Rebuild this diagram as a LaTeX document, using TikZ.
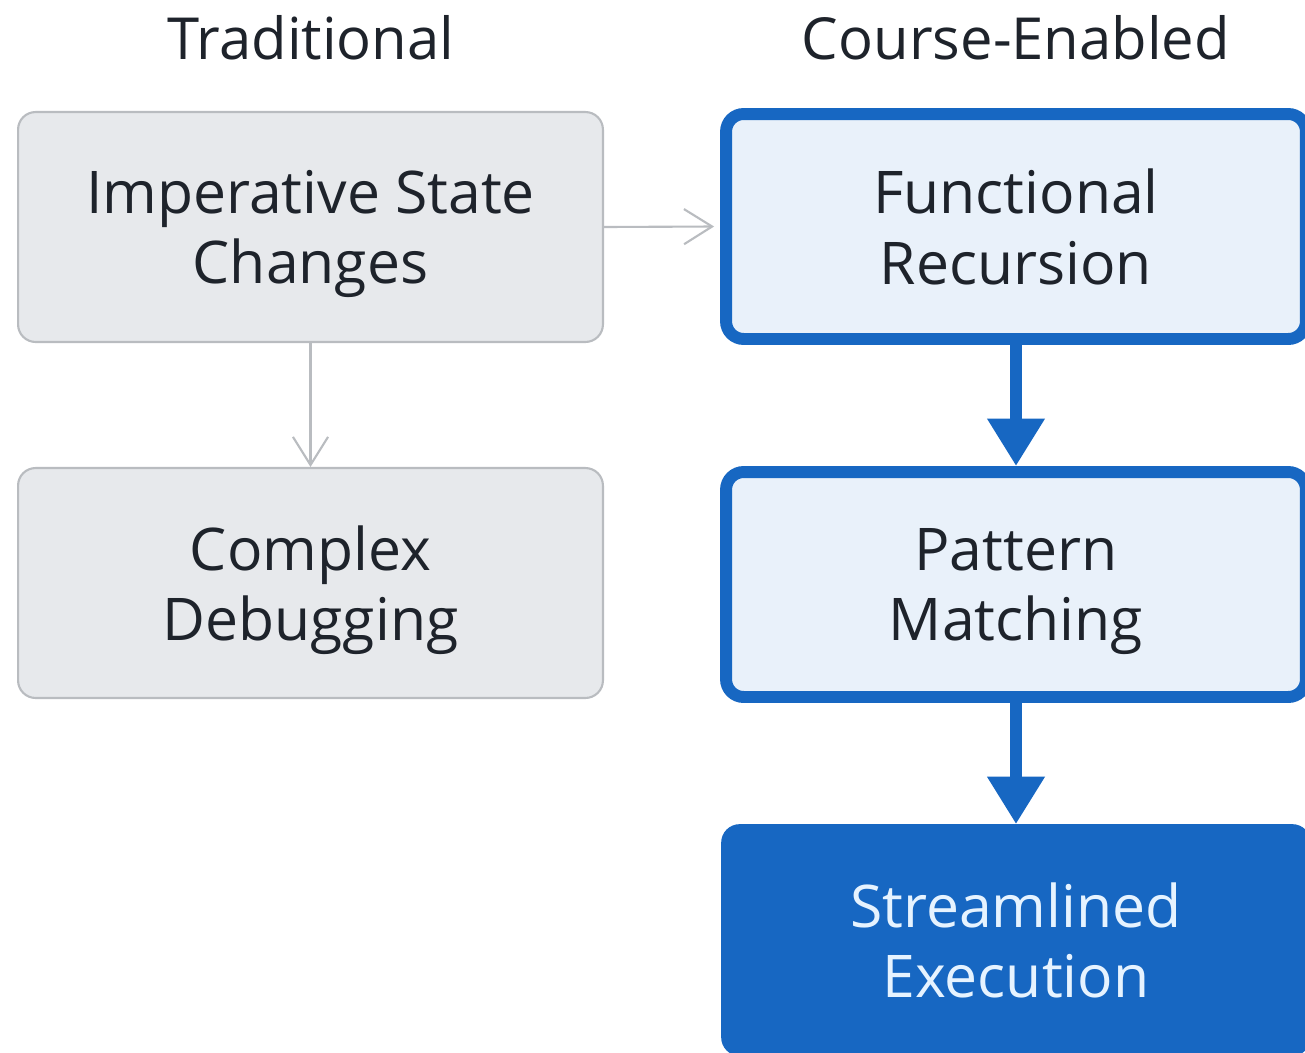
\documentclass[tikz,border=0pt]{standalone}
\usepackage{fontspec}
\setmainfont{Open Sans}
\usetikzlibrary{arrows.meta}
\definecolor{grayfill}{HTML}{E7E9EC}
\definecolor{grayline}{HTML}{B9BCC0}
\definecolor{blueline}{HTML}{1767C2}
\definecolor{bluefill}{HTML}{E9F1FA}
\definecolor{txt}{HTML}{1E232B}
\definecolor{lighttxt}{HTML}{E6F3FF}
\tikzset{
  px/.style={x=0.02cm,y=-0.02cm},
  boxfont/.style={font=\fontsize{33.5}{40}\selectfont, text depth=0pt, align=center},
  graybox/.style={boxfont, draw=grayline, fill=grayfill, line width=1.2pt, rounded corners=10pt,
    minimum width=11.7cm, minimum height=4.6cm, text=txt},
  bluebox/.style={boxfont, draw=blueline, fill=bluefill, line width=6.8pt, rounded corners=10pt,
    minimum width=11.6cm, minimum height=4.5cm, text=txt},
  solidbox/.style={boxfont, draw=blueline, fill=blueline, line width=1pt, rounded corners=10pt,
    minimum width=11.76cm, minimum height=4.6cm, text=lighttxt},
  header/.style={text=txt, font=\fontsize{33}{38}\selectfont},
  grayarrow/.style={draw=grayline, line width=1.2pt, -{Straight Barb[length=16pt,width=20pt,line width=1.2pt]}},
  bluearrow/.style={draw=blueline, line width=6.8pt, -{Triangle[length=27pt,width=31pt]}},
}
\begin{document}
\begin{tikzpicture}[px]
\useasboundingbox (0,0) rectangle (1305,1052);
\fill[white] (0,0) rectangle (1305,1052);
\node[header] (h1) at (311,38) {Traditional};
\node[header] (h2) at (1016,38) {Course-Enabled};
\node[graybox] (lt) at (310.5,227) {Imperative State\\Changes};
\node[graybox] (lb) at (310.5,583) {Complex\\Debugging};
\node[bluebox] (rt) at (1016,226.5) {Functional\\Recursion};
\node[bluebox] (rm) at (1016,584.5) {Pattern\\Matching};
\node[solidbox] (rb) at (1016,940) {Streamlined\\Execution};
\draw[grayarrow] (lt.east) -- ([xshift=-3.4pt]rt.west);
\draw[grayarrow] (lt.south) -- (lb.north);
\draw[bluearrow] (rt.south) -- (rm.north);
\draw[bluearrow] (rm.south) -- (rb.north);
\end{tikzpicture}
\end{document}
